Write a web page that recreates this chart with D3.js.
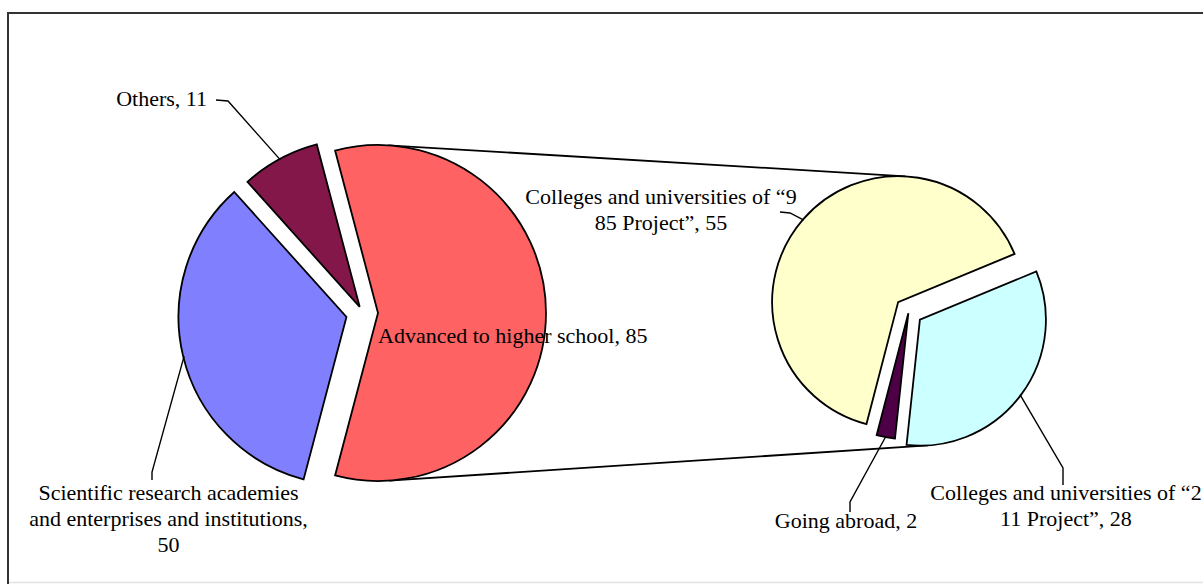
<!DOCTYPE html>
<html><head><meta charset="utf-8">
<script src="https://cdn.jsdelivr.net/npm/d3@7"></script>
<style>
html,body{margin:0;padding:0;background:#fff;}
svg{display:block;}
text{font-family:"Liberation Serif","Times New Roman",serif;font-size:22px;fill:#000;}
</style>
</head><body>
<svg id="chart" width="1203" height="584"></svg>
<script>
// ---- data ----
const mainCategories = ["Advanced to higher school", "Scientific research academies and enterprises and institutions", "Others"];
const mainValues = [85, 50, 11];
const subCategories = ["Colleges and universities of “211 Project”", "Going abroad", "Colleges and universities of “985 Project”"];
const subValues = [28, 2, 55];

// ---- style / layout ----
const mainColors = ["#ff6262", "#8080ff", "#84174a"];
const subColors = ["#ccffff", "#4e0046", "#ffffcc"];
const mainLayout = {cx: 363, cy: 313, r: 168, explode: [15, 17, 7]};
const subLayout = {cx: 908.7, cy: 311.3, r: 126, explode: [14, 2, 14], start: 67.5 * Math.PI / 180};

const labelCfg = [
  {pie: "main", i: 0, anchor: "start", x: 378, y: 343, breaks: [], stub: null},
  {pie: "main", i: 1, anchor: "middle", x: 168.5, y: 500, breaks: [29, 63], stub: [[152, 472], [152, 480]]},
  {pie: "main", i: 2, anchor: "end", x: 207, y: 106, breaks: [], stub: [[228, 101], [216, 100]]},
  {pie: "sub", i: 2, anchor: "middle", x: 661, y: 204, breaks: [31], stub: [[790, 213], [780, 212]]},
  {pie: "sub", i: 1, anchor: "middle", x: 846, y: 528, breaks: [], stub: [[850, 502], [850, 512]]},
  {pie: "sub", i: 0, anchor: "middle", x: 1066, y: 500, breaks: [31], stub: [[1063, 468], [1063, 485]]}
];
const lineH = 26;

const svg = d3.select("#chart");

// frame
svg.append("line").attr("x1", 8).attr("y1", 582.5).attr("x2", 1203).attr("y2", 582.5).attr("stroke", "#e2e2e2").attr("stroke-width", 1.5);
svg.append("path").attr("d", "M8,584 L8,13 L1203,13").attr("fill", "none").attr("stroke", "#333").attr("stroke-width", 2);

// pie layouts
const mainTotal = d3.sum(mainValues);
const mainStart = Math.PI / 2 - (mainValues[0] / mainTotal) * Math.PI;
const mainPie = d3.pie().sort(null).value(d => d).startAngle(mainStart).endAngle(mainStart + 2 * Math.PI)(mainValues);
const subPie = d3.pie().sort(null).value(d => d).startAngle(subLayout.start).endAngle(subLayout.start + 2 * Math.PI)(subValues);

function apex(layout, d, k) {
  const mid = (d.startAngle + d.endAngle) / 2;
  return [layout.cx + Math.sin(mid) * layout.explode[k], layout.cy - Math.cos(mid) * layout.explode[k]];
}
const mainApex = mainPie.map((d, k) => apex(mainLayout, d, k));
const subApex = subPie.map((d, k) => apex(subLayout, d, k));

// connector tangent lines
function tangent(c1, r1, c2, r2, up) {
  const dx = c2[0] - c1[0], dy = c2[1] - c1[1];
  const D = Math.hypot(dx, dy);
  const ux = dx / D, uy = dy / D;
  const phi = Math.acos((r1 - r2) / D);
  const s = up ? -1 : 1;
  const nx = ux * Math.cos(s * phi) - uy * Math.sin(s * phi);
  const ny = ux * Math.sin(s * phi) + uy * Math.cos(s * phi);
  return [[c1[0] + r1 * nx, c1[1] + r1 * ny], [c2[0] + r2 * nx, c2[1] + r2 * ny]];
}
const topLine = tangent(mainApex[0], mainLayout.r, subApex[2], subLayout.r, true);
const botLine = tangent(mainApex[0], mainLayout.r, subApex[0], subLayout.r, false);
[topLine, botLine].forEach(l => {
  svg.append("line").attr("x1", l[0][0]).attr("y1", l[0][1]).attr("x2", l[1][0]).attr("y2", l[1][1])
    .attr("stroke", "#000").attr("stroke-width", 1.8);
});

// slices
const mainArc = d3.arc().innerRadius(0).outerRadius(mainLayout.r);
const subArc = d3.arc().innerRadius(0).outerRadius(subLayout.r);
svg.append("g").selectAll("path").data(mainPie).join("path")
  .attr("transform", (d, k) => `translate(${mainApex[k][0]},${mainApex[k][1]})`)
  .attr("d", mainArc).attr("fill", (d, k) => mainColors[k])
  .attr("stroke", "#000").attr("stroke-width", 1.8).attr("stroke-linejoin", "miter");
svg.append("g").selectAll("path").data(subPie).join("path")
  .attr("transform", (d, k) => `translate(${subApex[k][0]},${subApex[k][1]})`)
  .attr("d", subArc).attr("fill", (d, k) => subColors[k])
  .attr("stroke", "#000").attr("stroke-width", 1.8).attr("stroke-linejoin", "miter");

// labels and leaders
labelCfg.forEach(c => {
  const isMain = c.pie === "main";
  const name = (isMain ? mainCategories : subCategories)[c.i];
  const val = (isMain ? mainValues : subValues)[c.i];
  const txt = `${name}, ${val}`;
  const cuts = [0, ...c.breaks, txt.length];
  const lines = [];
  for (let j = 0; j < cuts.length - 1; j++) lines.push(txt.slice(cuts[j], cuts[j + 1]).trim());
  if (c.stub) {
    const d = (isMain ? mainPie : subPie)[c.i];
    const a = (isMain ? mainApex : subApex)[c.i];
    const r = (isMain ? mainLayout.r : subLayout.r) - 1;
    const mid = (d.startAngle + d.endAngle) / 2;
    const pts = [[a[0] + Math.sin(mid) * r, a[1] - Math.cos(mid) * r], ...c.stub];
    svg.append("path").attr("d", d3.line()(pts)).attr("fill", "none").attr("stroke", "#000").attr("stroke-width", 1.4);
  }
  const t = svg.append("text").attr("text-anchor", c.anchor);
  lines.forEach((ln, j) => t.append("tspan").attr("x", c.x).attr("y", c.y + j * lineH).text(ln));
});
</script>
</body></html>
